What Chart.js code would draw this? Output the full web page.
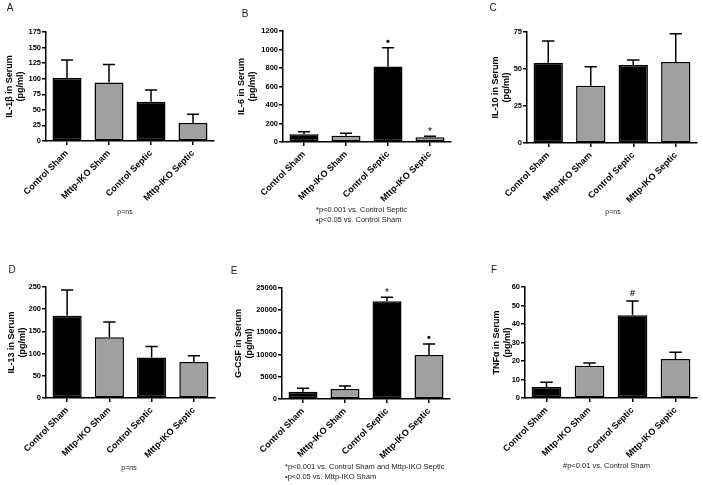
<!DOCTYPE html>
<html><head><meta charset="utf-8">
<script src="https://cdn.jsdelivr.net/npm/chart.js@4/dist/chart.umd.min.js"></script>
<style>
html,body{margin:0;padding:0;background:#fff;}
body{width:703px;height:485px;overflow:hidden;position:relative;font-family:"Liberation Sans",Arial,sans-serif;}
canvas.cv{position:absolute;}
.t{position:absolute;white-space:nowrap;color:#222;line-height:1;}
.c{transform:translate(-50%,-50%);}
.l{transform:translate(0,-50%);}
</style></head><body>
<canvas class="cv" id="cA"></canvas>
<canvas class="cv" id="cB"></canvas>
<canvas class="cv" id="cC"></canvas>
<canvas class="cv" id="cD"></canvas>
<canvas class="cv" id="cE"></canvas>
<canvas class="cv" id="cF"></canvas>

<div class="t c" style="left:10px;top:8px;font-size:10px;">A</div>
<div class="t c" style="left:245px;top:14px;font-size:10px;">B</div>
<div class="t c" style="left:493px;top:8px;font-size:10px;">C</div>
<div class="t c" style="left:12px;top:270px;font-size:10px;">D</div>
<div class="t c" style="left:234px;top:271px;font-size:10px;">E</div>
<div class="t c" style="left:494px;top:270px;font-size:10px;">F</div>

<div class="t c" style="left:125px;top:211px;font-size:7px;">p=ns</div>
<div class="t l" style="left:316px;top:210px;font-size:7.5px;">*p&lt;0.001 vs. Control Septic</div>
<div class="t l" style="left:316px;top:220px;font-size:7.5px;">•p&lt;0.05 vs. Control Sham</div>
<div class="t c" style="left:613px;top:211px;font-size:7px;">p=ns</div>
<div class="t c" style="left:129px;top:467px;font-size:7px;">p=ns</div>
<div class="t l" style="left:285px;top:467px;font-size:7.5px;">*p&lt;0.001 vs. Control Sham and Mttp-IKO Septic</div>
<div class="t l" style="left:285px;top:477px;font-size:7.5px;">•p&lt;0.05 vs. Mttp-IKO Sham</div>
<div class="t l" style="left:563px;top:466px;font-size:7.5px;">#p&lt;0.01 vs. Control Sham</div>

<script>
// ---- data ----
const categories = ['Control Sham', 'Mttp-IKO Sham', 'Control Septic', 'Mttp-IKO Septic'];

const il1bMean = [101, 94, 63, 29];
const il1bSem  = [29, 29, 19, 14];
const il1bTicks = [0, 25, 50, 75, 100, 125, 150, 175];
const il1bMarks = ['', '', '', ''];

const il6Mean = [83, 68, 815, 51];
const il6Sem  = [28, 26, 205, 12];
const il6Ticks = [0, 200, 400, 600, 800, 1000, 1200];
const il6Marks = ['', '', '•', '*'];

const il10Mean = [54.3, 38.7, 52.7, 54.7];
const il10Sem  = [14.6, 12.9, 3.4, 19.2];
const il10Ticks = [0, 25, 50, 75];
const il10Marks = ['', '', '', ''];

const il13Mean = [185, 137, 91, 81];
const il13Sem  = [58, 34, 25, 14];
const il13Ticks = [0, 50, 100, 150, 200, 250];
const il13Marks = ['', '', '', ''];

const gcsfMean = [1650, 2250, 22000, 9900];
const gcsfSem  = [750, 700, 900, 2500];
const gcsfTicks = [0, 5000, 10000, 15000, 20000, 25000];
const gcsfMarks = ['', '', '*', '•'];

const tnfMean = [5.9, 17.5, 44.7, 21.1];
const tnfSem  = [2.6, 1.4, 7.7, 3.6];
const tnfTicks = [0, 10, 20, 30, 40, 50, 60];
const tnfMarks = ['', '', '#', ''];

// ---- styling / layout ----
const FONT = '"Liberation Sans", Arial, sans-serif';
const barFill = ['#000000', '#a0a0a0', '#000000', '#a0a0a0'];

const errorBarPlugin = {
  id: 'errorBars',
  afterDatasetsDraw(chart) {
    const ctx = chart.ctx;
    const ys = chart.scales.y;
    const meta = chart.getDatasetMeta(0);
    const ds = chart.data.datasets[0];
    ctx.save();
    ctx.strokeStyle = '#000';
    ctx.lineWidth = 1.5;
    meta.data.forEach((bar, i) => {
      const top = ys.getPixelForValue(ds.data[i] + ds.sem[i]);
      const capHalf = bar.width * 0.21;
      ctx.beginPath();
      ctx.moveTo(bar.x, bar.y);
      ctx.lineTo(bar.x, top);
      ctx.moveTo(bar.x - capHalf, top);
      ctx.lineTo(bar.x + capHalf, top);
      ctx.stroke();
      const m = ds.marks[i];
      if (m) {
        ctx.fillStyle = '#000';
        ctx.textAlign = 'center';
        ctx.textBaseline = 'middle';
        if (m === '•') { ctx.font = 'bold 11px ' + FONT; ctx.fillText(m, bar.x, top - 6); }
        else if (m === '*') { ctx.font = '10px ' + FONT; ctx.fillText(m, bar.x, top - 4); }
        else { ctx.font = 'bold 9px ' + FONT; ctx.fillText(m, bar.x, top - 8); }
      }
    });
    ctx.restore();
  }
};

function makeChart(id, box, area, ylabel, mean, sem, ticks, marks) {
  const cv = document.getElementById(id);
  cv.style.left = box.left + 'px';
  cv.style.top = box.top + 'px';
  cv.style.width = box.width + 'px';
  cv.style.height = box.height + 'px';
  cv.width = box.width; cv.height = box.height;
  const step = ticks[1] - ticks[0];
  return new Chart(cv, {
    type: 'bar',
    data: {
      labels: categories,
      datasets: [{
        data: mean, sem: sem, marks: marks,
        backgroundColor: barFill,
        borderColor: '#000',
        borderWidth: 1.5,
        borderSkipped: false,
        barPercentage: 0.69,
        categoryPercentage: 1.0
      }]
    },
    options: {
      responsive: false,
      animation: false,
      devicePixelRatio: 1,
      layout: { padding: { left: 0, top: area.t - box.top, right: box.left + box.width - area.r, bottom: 0 } },
      plugins: { legend: { display: false }, tooltip: { enabled: false } },
      scales: {
        x: {
          grid: { display: true, drawOnChartArea: false, drawTicks: true, tickLength: 4, color: '#000', lineWidth: 1.5, offset: false },
          border: { display: true, color: '#000', width: 1.5 },
          ticks: { autoSkip: false, minRotation: 45, maxRotation: 45, color: '#000', padding: 3,
                   font: { family: FONT, size: 9, weight: 'bold' } },
          afterFit(s) { s.height = box.top + box.height - area.b; }
        },
        y: {
          min: ticks[0], max: ticks[ticks.length - 1],
          grid: { display: true, drawOnChartArea: false, drawTicks: true, tickLength: 4, color: '#000', lineWidth: 1.5 },
          border: { display: true, color: '#000', width: 1.5 },
          ticks: { stepSize: step, color: '#000', padding: 1, callback: v => String(v),
                   font: { family: FONT, size: 7.5, weight: 'bold' } },
          title: { display: true, text: [ylabel, '(pg/ml)'], color: '#000', padding: { top: 4, bottom: 0 },
                   font: { family: FONT, size: 9, weight: 'bold', lineHeight: 1.25 } },
          afterFit(s) { s.width = area.l - box.left; }
        }
      }
    },
    plugins: [errorBarPlugin]
  });
}

makeChart('cA', {left: 0, top: 0, width: 230, height: 240}, {l: 46, t: 32, r: 214, b: 141},
  'IL-1β in Serum', il1bMean, il1bSem, il1bTicks, il1bMarks);
makeChart('cB', {left: 232, top: 0, width: 228, height: 240}, {l: 283, t: 31, r: 451, b: 142},
  'IL-6 in Serum', il6Mean, il6Sem, il6Ticks, il6Marks);
makeChart('cC', {left: 486, top: 0, width: 217, height: 240}, {l: 527, t: 32, r: 697, b: 143},
  'IL-10 in Serum', il10Mean, il10Sem, il10Ticks, il10Marks);
makeChart('cD', {left: 2, top: 240, width: 228, height: 245}, {l: 46, t: 287, r: 215, b: 398},
  'IL-13 in Serum', il13Mean, il13Sem, il13Ticks, il13Marks);
makeChart('cE', {left: 229, top: 240, width: 231, height: 245}, {l: 282, t: 288, r: 450, b: 399},
  'G-CSF in Serum', gcsfMean, gcsfSem, gcsfTicks, gcsfMarks);
makeChart('cF', {left: 487, top: 240, width: 216, height: 245}, {l: 525, t: 287, r: 697, b: 398},
  'TNFα in Serum', tnfMean, tnfSem, tnfTicks, tnfMarks);
</script>
</body></html>
